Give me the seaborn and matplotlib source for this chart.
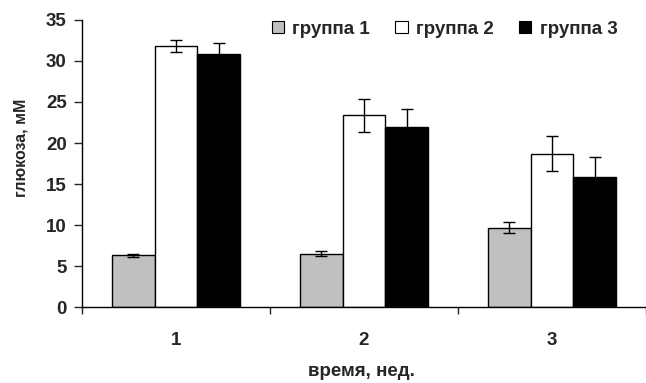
import pandas as pd
import matplotlib.pyplot as plt
import seaborn as sns
from matplotlib.patches import Patch

# Данные
weeks = ['1', '2', '3']
groups = ['группа 1', 'группа 2', 'группа 3']
glucose_g1 = [6.3, 6.5, 9.7]
glucose_g2 = [31.8, 23.4, 18.7]
glucose_g3 = [30.9, 22.0, 15.9]
err_g1 = [0.2, 0.3, 0.7]
err_g2 = [0.7, 2.0, 2.1]
err_g3 = [1.3, 2.2, 2.4]
colors = ['#C0C0C0', '#FFFFFF', '#000000']

means = [glucose_g1, glucose_g2, glucose_g3]
errs = [err_g1, err_g2, err_g3]
rows = []
for g, vals, ee in zip(groups, means, errs):
    for w, v, e in zip(weeks, vals, ee):
        rows.append({'week': w, 'group': g, 'glucose': v, 'err': e})
df = pd.DataFrame(rows)

sns.set_style('white')
plt.rcParams['font.family'] = ['Liberation Sans', 'DejaVu Sans']
plt.rcParams['font.weight'] = 'bold'

fig = plt.figure(figsize=(6.46, 3.83), dpi=100)
ax = fig.add_axes([0.127, 0.198, 0.873, 0.75])

sns.barplot(data=df, x='week', y='glucose', hue='group', order=weeks,
            hue_order=groups, palette=dict(zip(groups, colors)),
            edgecolor='black', linewidth=1, width=0.68, errorbar=None,
            legend=False, ax=ax)

# Планки погрешностей
for i, g in enumerate(groups):
    sub = df[df['group'] == g]
    bars = ax.patches[i * len(weeks):(i + 1) * len(weeks)]
    xs = [b.get_x() + b.get_width() / 2 for b in bars]
    ax.errorbar(xs, sub['glucose'], yerr=sub['err'], fmt='none',
                ecolor='black', elinewidth=1, capsize=4.5, capthick=1)

ax.set_ylim(0, 35)
ax.set_yticks(range(0, 36, 5))
ax.set_xlim(-0.5, 2.5)
ax.set_xticks([-0.5, 0.5, 1.5, 2.5], minor=True)
ax.tick_params(axis='x', which='major', length=0, pad=18, labelsize=13.5)
ax.tick_params(axis='x', which='minor', length=5, width=1, direction='out', bottom=True)
ax.tick_params(axis='y', length=6, width=1, direction='out', left=True, pad=5, labelsize=13.5)
for lab in ax.get_xticklabels() + ax.get_yticklabels():
    lab.set_fontweight('bold')

for s in ['top', 'right']:
    ax.spines[s].set_visible(False)
for s in ['left', 'bottom']:
    ax.spines[s].set_color('black')
    ax.spines[s].set_linewidth(1)

ax.set_xlabel('время, нед.', fontsize=13.5, fontweight='bold', va='center')
ax.set_ylabel('глюкоза, мМ', fontsize=11.5, fontweight='bold', va='center')
ax.xaxis.set_label_coords(0.495, -0.225)
ax.yaxis.set_label_coords(-0.108, 0.554)

handles = [Patch(facecolor=c, edgecolor='black', linewidth=0.8) for c in colors]
fig.legend(handles, groups, loc='upper right', bbox_to_anchor=(0.982, 0.99),
           ncol=3, frameon=False, handlelength=0.65, handleheight=0.65,
           handletextpad=0.45, columnspacing=1.35, prop={'size': 13.5, 'weight': 'bold'})

fig.savefig('out.png', dpi=100)
